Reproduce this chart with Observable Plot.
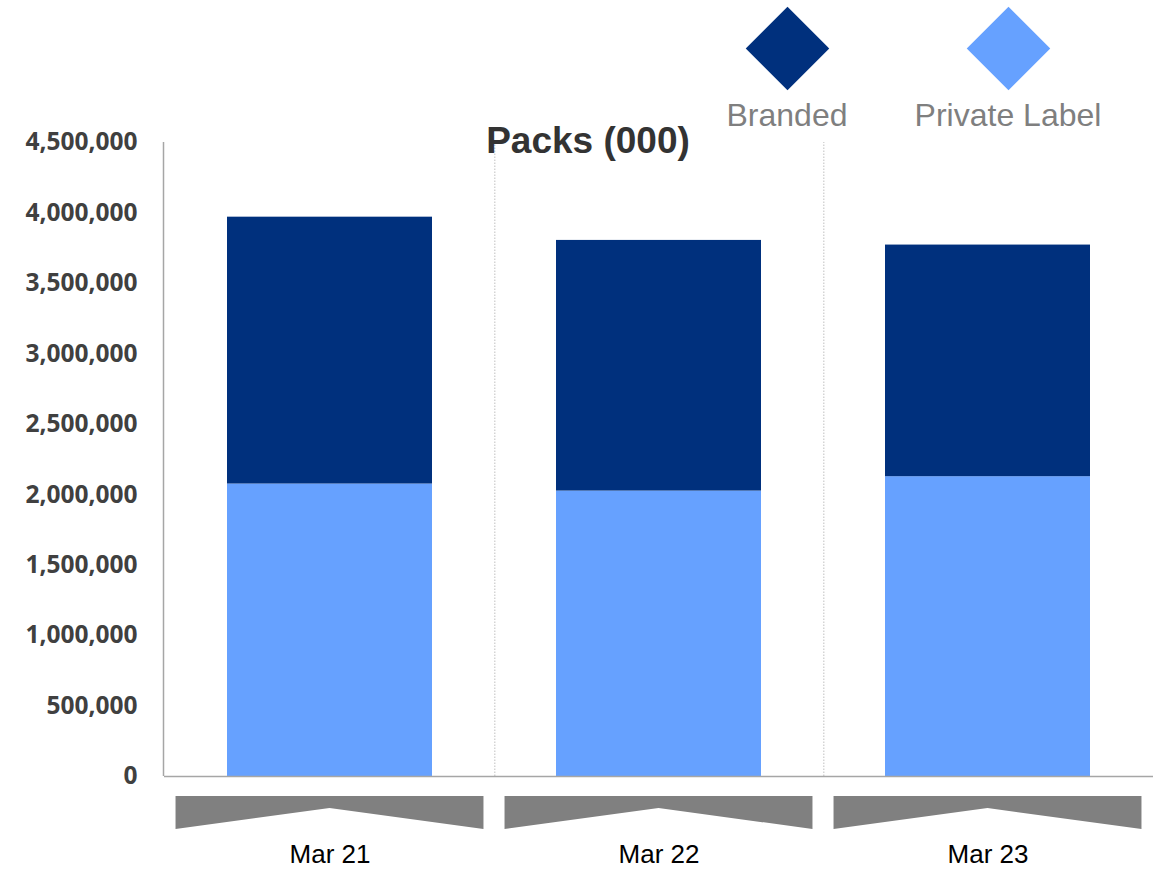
<!DOCTYPE html>
<html>
<head>
<meta charset="utf-8">
<script src="https://cdn.jsdelivr.net/npm/d3@7"></script>
<script src="https://cdn.jsdelivr.net/npm/@observablehq/plot@0.6"></script>
<style>
  html, body { margin: 0; padding: 0; background: #fff; }
  #wrap { position: relative; width: 1153px; height: 869px; overflow: hidden; font-family: "Liberation Sans", Arial, sans-serif; }
  #wrap svg.plot { position: absolute; left: 0; top: 0; }
  .title { position: absolute; left: 388px; top: 122px; width: 400px; text-align: center; font-size: 37px; line-height: 37px; font-weight: bold; color: #333333; z-index: 2; }
  .leg { position: absolute; width: 300px; text-align: center; font-size: 32px; line-height: 32px; color: #7F7F7F; top: 99px; z-index: 2; }
  .dia { position: absolute; width: 59px; height: 59px; transform: rotate(45deg); top: 18.5px; z-index: 2; }
  g[aria-label="y-axis tick label"] text { font-family: "Open Sans", sans-serif; font-weight: 700; }
</style>
</head>
<body>
<div id="wrap"></div>
<script>
// ---- data ----
const categories = ["Mar 21", "Mar 22", "Mar 23"];
const seriesNames = ["Branded", "Private Label"];
const branded = [1894000, 1779000, 1644000];
const privateLabel = [2076000, 2026000, 2128000];
const yTicks = [0, 500000, 1000000, 1500000, 2000000, 2500000, 3000000, 3500000, 4000000, 4500000];
const seriesColors = ["#00307D", "#66A1FF"];

const rows = [];
categories.forEach((c, i) => {
  rows.push({cat: c, series: "Private Label", value: privateLabel[i]});
  rows.push({cat: c, series: "Branded", value: branded[i]});
});

const W = 1153, H = 869;
const mL = 164, mR = 0, mT = 142, mB = 93;
const bw = (W - mL - mR) / categories.length;

// chevron-shaped category brackets below the axis, positioned with the x scale
function chevrons(index, scales, values, dimensions) {
  const x = scales.x;
  const band = typeof x.bandwidth === "function" ? x.bandwidth() : bw;
  const g = document.createElementNS("http://www.w3.org/2000/svg", "g");
  g.setAttribute("aria-label", "category brackets");
  const base = dimensions.height - dimensions.marginBottom;
  categories.forEach(c => {
    const cx = x(c) + band / 2;
    const half = band * 0.468;
    const top = base + 20, bot = base + 53, apex = base + 32;
    const p = document.createElementNS("http://www.w3.org/2000/svg", "polygon");
    p.setAttribute("points", `${cx - half},${top} ${cx + half},${top} ${cx + half},${bot} ${cx},${apex} ${cx - half},${bot}`);
    p.setAttribute("fill", "#808080");
    g.appendChild(p);
  });
  // y axis line
  const l = document.createElementNS("http://www.w3.org/2000/svg", "line");
  l.setAttribute("x1", dimensions.marginLeft - 0.5);
  l.setAttribute("x2", dimensions.marginLeft - 0.5);
  l.setAttribute("y1", dimensions.marginTop);
  l.setAttribute("y2", base);
  l.setAttribute("stroke", "#A6A6A6");
  l.setAttribute("stroke-width", 1.5);
  g.appendChild(l);
  return g;
}

const chart = Plot.plot({
  width: W,
  height: H,
  marginLeft: mL,
  marginRight: mR,
  marginTop: mT,
  marginBottom: mB,
  style: {fontFamily: '"Liberation Sans", Arial, sans-serif', background: "transparent", overflow: "visible"},
  x: {type: "band", domain: categories, padding: 0, axis: null},
  y: {domain: [0, 4500000], axis: null, label: null},
  color: {domain: seriesNames, range: seriesColors},
  marks: [
    Plot.ruleX(categories.slice(0, -1), {x: d => d, dx: bw / 2, y1: 0, y2: 4500000, stroke: "#BFBFBF", strokeWidth: 1, strokeDasharray: "1.5,1.5"}),
    Plot.barY(rows, {x: "cat", y: "value", fill: "series", order: ["Private Label", "Branded"], insetLeft: 62, insetRight: 62}),
    Plot.ruleY([0], {stroke: "#A6A6A6", strokeWidth: 1.5}),
    Plot.axisY({ticks: yTicks, label: null, tickSize: 0, tickPadding: 27, tickFormat: d3.format(","), fontSize: 24.5, fontWeight: "bold", fill: "#404040"}),
    Plot.text(categories, {x: d => d, frameAnchor: "bottom", dy: 78, fontSize: 26, fill: "#000000", lineAnchor: "middle"}),
    chevrons
  ]
});
chart.classList.add("plot");
const wrap = document.getElementById("wrap");
wrap.appendChild(chart);

// title
const t = document.createElement("div");
t.className = "title";
t.textContent = "Packs (000)";
wrap.appendChild(t);

// legend
const legCenters = [787, 1008];
seriesNames.forEach((s, i) => {
  const d = document.createElement("div");
  d.className = "dia";
  d.style.left = (legCenters[i] - 29.5) + "px";
  d.style.background = seriesColors[i];
  wrap.appendChild(d);
  const l = document.createElement("div");
  l.className = "leg";
  l.style.left = (legCenters[i] - 150) + "px";
  l.textContent = s;
  wrap.appendChild(l);
});
</script>
</body>
</html>
